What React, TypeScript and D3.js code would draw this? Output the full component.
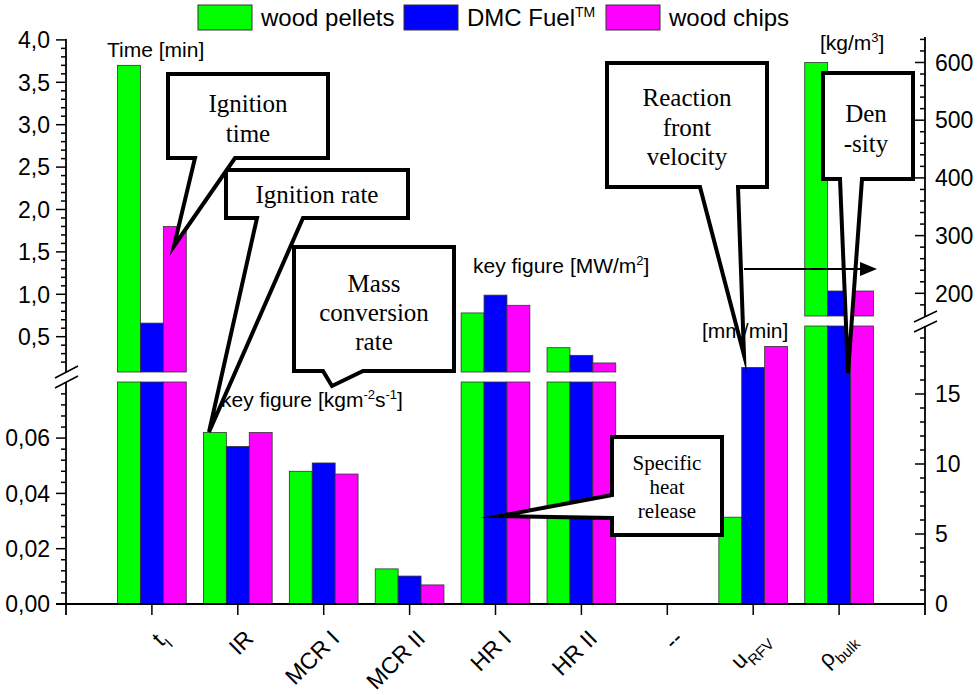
import React from "react";
import * as d3 from "d3";

// ---------- data ----------
const categoryLabels = ["t", "IR", "MCR I", "MCR II", "HR I", "HR II", "--", "u", "ρ"];
const categorySubs = ["I", "", "", "", "", "", "", "RFV", "bulk"];
const seriesNames = ["wood pellets", "DMC Fuel", "wood chips"];
const seriesSup = ["", "TM", ""];
const seriesColors = ["#00ff00", "#0000ff", "#ff00ff"];
const woodPellets = [3.7, 0.062, 0.048, 0.0127, 0.78, 0.37, null, 6.2, 600];
const dmcFuel = [0.66, 0.057, 0.051, 0.0101, 0.99, 0.28, null, 16.9, 204];
const woodChips = [1.8, 0.062, 0.047, 0.0069, 0.87, 0.19, null, 18.4, 204];
// which axis segment each category is read on
const axisOf = ["LU", "LL", "LL", "LL", "LU", "LU", "none", "RL", "RU"];
const leftUpperTicks = [0.5, 1.0, 1.5, 2.0, 2.5, 3.0, 3.5, 4.0];
const leftLowerTicks = [0, 0.02, 0.04, 0.06];
const rightUpperTicks = [200, 300, 400, 500, 600];
const rightLowerTicks = [0, 5, 10, 15];

// ---------- layout ----------
const W = 980, H = 695;
const XL = 66, XR = 925, Y0 = 604;
const x = d3.scaleLinear().domain([0, 10]).range([XL, XR]);
const step = x(1) - x(0);
const inner = d3.scaleBand<string>().domain(seriesNames).range([-0.4 * step, 0.4 * step]);

const yLL = d3.scaleLinear().domain([0, 0.08]).range([Y0, 382.8]);
const yLU = d3.scaleLinear().domain([0.1, 4.0]).range([370.6, 39.9]);
const yRL = d3.scaleLinear().domain([0, 20]).range([Y0, 324]);
const yRU = d3.scaleLinear().domain([160, 640]).range([316.4, 39.4]);
const LL_TOP = 382, LU_BOT = 372, RL_TOP = 326, RU_BOT = 316;

const fmtL1 = (v: number) => d3.format(".1f")(v).replace(".", ",");
const fmtL2 = (v: number) => d3.format(".2f")(v).replace(".", ",");

const SANS = "'Liberation Sans', Arial, sans-serif";
const SERIF = "'Liberation Serif', 'Times New Roman', serif";
const C45 = Math.SQRT1_2;
const LABEL_FS = 23, SUB_FS = 15;

function bubbleBottom(L: number, T: number, R: number, B: number, x1: number, x2: number, tx: number, ty: number) {
  return `M${L},${T}H${R}V${B}H${x2}L${tx},${ty}L${x1},${B}H${L}Z`;
}
function bubbleLeft(L: number, T: number, R: number, B: number, y1: number, y2: number, tx: number, ty: number) {
  return `M${L},${T}H${R}V${B}H${L}V${y2}L${tx},${ty}L${L},${y1}Z`;
}

let ctx2d: CanvasRenderingContext2D | null = null;
function textWidth(s: string, size: number) {
  if (!s) return 0;
  if (!ctx2d) ctx2d = document.createElement("canvas").getContext("2d");
  if (!ctx2d) return s.length * size * 0.55;
  ctx2d.font = `${size}px "Liberation Sans", Arial, sans-serif`;
  return ctx2d.measureText(s).width;
}

export default function App() {
  const allSeries = [woodPellets, dmcFuel, woodChips];
  const bars: any[] = [];
  categoryLabels.forEach((_, ci) => {
    const ax = axisOf[ci];
    allSeries.forEach((vals, si) => {
      const v = vals[ci];
      if (v == null) return;
      const bx = x(ci + 1) + (inner(seriesNames[si]) as number);
      const bw = inner.bandwidth();
      const pieces: [number, number][] = [];
      if (ax === "LL") pieces.push([yLL(v), Y0]);
      else if (ax === "RL") pieces.push([yRL(v), Y0]);
      else if (ax === "LU") { pieces.push([LL_TOP, Y0]); pieces.push([yLU(v), LU_BOT]); }
      else if (ax === "RU") { pieces.push([RL_TOP, Y0]); pieces.push([yRU(v), RU_BOT]); }
      pieces.forEach(([t, b], k) => bars.push(
        <rect key={`b${ci}-${si}-${k}`} x={bx} y={t} width={bw} height={b - t}
          fill={seriesColors[si]} stroke="#333" strokeWidth={0.8} />
      ));
    });
  });

  const luMinor = d3.range(2, 41).map(i => i / 10).filter(v => Math.abs(v * 2 - Math.round(v * 2)) > 1e-6);
  const llMinor = d3.range(1, 20).map(i => i * 0.004).filter(v => Math.abs(v / 0.02 - Math.round(v / 0.02)) > 1e-6);
  const ruMinor = d3.range(180, 641, 20).filter(v => v % 100 !== 0);
  const rlMinor = d3.range(1, 20).filter(v => v % 5 !== 0);

  const tick = (key: string, y: number, x1: number, x2: number) =>
    <line key={key} x1={x1} x2={x2} y1={y} y2={y} stroke="#000" strokeWidth={1.5} />;

  const callouts = [
    { d: bubbleBottom(226, 170, 408, 218, 257, 303, 209, 432), lines: ["Ignition rate"], cx: 317, ys: [203], fs: 25 },
    { d: bubbleBottom(168, 74, 328, 158, 195, 235, 174, 246), lines: ["Ignition", "time"], cx: 248, ys: [112, 142], fs: 25 },
    { d: bubbleBottom(294, 247, 454, 371, 323, 363, 332, 386), lines: ["Mass", "conversion", "rate"], cx: 374, ys: [292, 321, 350], fs: 25 },
    { d: bubbleLeft(612, 437, 722, 535, 495, 518, 500, 516), lines: ["Specific", "heat", "release"], cx: 667, ys: [470, 494, 518], fs: 21 },
    { d: bubbleBottom(607, 63, 767, 187, 700, 738, 744, 355), lines: ["Reaction", "front", "velocity"], cx: 687, ys: [106, 136, 165], fs: 25 },
    { d: bubbleBottom(823, 73, 913, 179, 840, 862, 848, 373), lines: ["Den", "-sity"], cx: 866, ys: [122, 152], fs: 25 },
  ];

  const legendX = [198, 404, 606];

  // rotated labels: the end of each label sits just right of its tick; rotate about the label's centre
  const capH = 16;
  const labelCentres = categoryLabels.map((c, i) => {
    const L = textWidth(c, LABEL_FS) + textWidth(categorySubs[i], SUB_FS);
    const ax = x(i + 1) + 17, ay = 640;
    return [ax - C45 * (L + capH) / 2, ay + C45 * (L - capH) / 2];
  });

  return (
    <svg width={W} height={H} style={{ position: "absolute", left: 0, top: 0, background: "#fff" }} fontFamily={SANS}>
      <rect x={0} y={0} width={W} height={H} fill="#fff" />
      {bars}

      {/* axis titles */}
      <text x={107} y={57} fontSize={21}>Time [min]</text>
      <text x={221} y={407} fontSize={21}>key figure [kgm<tspan dy={-8} fontSize={13}>-2</tspan><tspan dy={8}>s</tspan><tspan dy={-8} fontSize={13}>-1</tspan><tspan dy={8}>]</tspan></text>
      <text x={473} y={273} fontSize={21}>key figure [MW/m<tspan dy={-8} fontSize={13}>2</tspan><tspan dy={8}>]</tspan></text>
      <text x={702} y={338} fontSize={21}>[mm/min]</text>
      <text x={820} y={50} fontSize={21}>[kg/m<tspan dy={-8} fontSize={13}>3</tspan><tspan dy={8}>]</tspan></text>

      {/* bottom axis */}
      <line x1={56} x2={XR} y1={Y0} y2={Y0} stroke="#000" strokeWidth={1.8} />
      {categoryLabels.map((c, i) => (
        <line key={`xtk${i}`} x1={x(i + 1)} x2={x(i + 1)} y1={Y0} y2={615} stroke="#000" strokeWidth={1.5} />
      ))}
      {categoryLabels.map((c, i) => (
        <text key={`xl${i}`} transform={`translate(${labelCentres[i][0]},${labelCentres[i][1]}) rotate(-45)`}
          textAnchor="middle" dy="0.35em" fontSize={LABEL_FS}>
          {c}{categorySubs[i] ? <tspan dy={7} fontSize={SUB_FS}>{categorySubs[i]}</tspan> : null}
        </text>
      ))}

      {/* left axis */}
      <line x1={XL} x2={XL} y1={39} y2={LU_BOT} stroke="#000" strokeWidth={1.8} />
      <line x1={XL} x2={XL} y1={LL_TOP} y2={615} stroke="#000" strokeWidth={1.8} />
      {leftUpperTicks.map(v => tick(`lu${v}`, yLU(v), XL - 10, XL))}
      {luMinor.map(v => tick(`lum${v}`, yLU(v), XL - 5, XL))}
      {leftLowerTicks.map(v => tick(`ll${v}`, yLL(v), XL - 10, XL))}
      {llMinor.map(v => tick(`llm${v}`, yLL(v), XL - 5, XL))}
      {leftUpperTicks.map(v => (
        <text key={`lut${v}`} x={50} y={yLU(v)} dy="0.36em" textAnchor="end" fontSize={23}>{fmtL1(v)}</text>
      ))}
      {leftLowerTicks.map(v => (
        <text key={`llt${v}`} x={50} y={yLL(v)} dy="0.36em" textAnchor="end" fontSize={23}>{fmtL2(v)}</text>
      ))}
      <line x1={55} y1={378} x2={78} y2={366} stroke="#000" strokeWidth={1.5} />
      <line x1={55} y1={388} x2={78} y2={376} stroke="#000" strokeWidth={1.5} />

      {/* right axis */}
      <line x1={XR} x2={XR} y1={37} y2={RU_BOT} stroke="#000" strokeWidth={1.8} />
      <line x1={XR} x2={XR} y1={RL_TOP} y2={615} stroke="#000" strokeWidth={1.8} />
      {rightUpperTicks.map(v => tick(`ru${v}`, yRU(v), XR - 10, XR))}
      {ruMinor.map(v => tick(`rum${v}`, yRU(v), XR - 5, XR))}
      {rightLowerTicks.map(v => tick(`rl${v}`, yRL(v), XR - 10, XR))}
      {rlMinor.map(v => tick(`rlm${v}`, yRL(v), XR - 5, XR))}
      {rightUpperTicks.map(v => (
        <text key={`rut${v}`} x={935} y={yRU(v)} dy="0.36em" fontSize={23}>{v}</text>
      ))}
      {rightLowerTicks.map(v => (
        <text key={`rlt${v}`} x={935} y={yRL(v)} dy="0.36em" fontSize={23}>{v}</text>
      ))}
      <line x1={914} y1={322} x2={937} y2={311} stroke="#000" strokeWidth={1.5} />
      <line x1={914} y1={332} x2={937} y2={321} stroke="#000" strokeWidth={1.5} />

      {/* callouts */}
      {callouts.map((c, i) => (
        <g key={`co${i}`}>
          <path d={c.d} fill="#fff" stroke="#000" strokeWidth={4} strokeLinejoin="miter" strokeMiterlimit={10} />
          {c.lines.map((t, j) => (
            <text key={j} x={c.cx} y={c.ys[j]} textAnchor="middle" fontFamily={SERIF} fontSize={c.fs}>{t}</text>
          ))}
        </g>
      ))}

      {/* arrow */}
      <line x1={744} y1={269} x2={862} y2={269} stroke="#000" strokeWidth={2} />
      <path d="M860,262L877,269L860,276Z" fill="#000" />

      {/* legend */}
      {seriesNames.map((s, i) => (
        <g key={`lg${i}`}>
          <rect x={legendX[i]} y={5} width={54} height={25} fill={seriesColors[i]} stroke="#333" strokeWidth={1} />
          <text x={legendX[i] + 63} y={26} fontSize={24}>{s}{seriesSup[i] ? <tspan dy={-9} fontSize={14}>{seriesSup[i]}</tspan> : null}</text>
        </g>
      ))}
    </svg>
  );
}
